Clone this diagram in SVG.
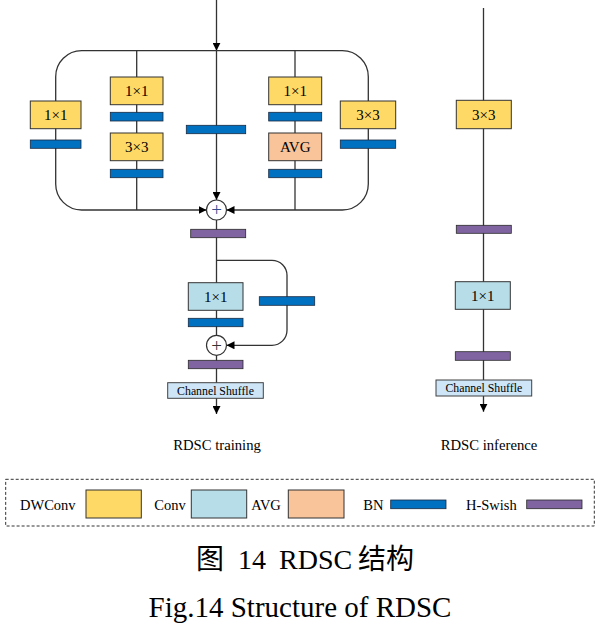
<svg xmlns="http://www.w3.org/2000/svg" width="600" height="623" viewBox="0 0 600 623">
<defs>
<marker id="arr" viewBox="0 0 10 10" refX="10" refY="5" markerWidth="8" markerHeight="8" markerUnits="userSpaceOnUse" orient="auto"><path d="M0,0 L10,5 L0,10 z" fill="#000"/></marker>
<style>
.ln{fill:none;stroke:#333;stroke-width:1.3}
.dw{fill:#FFD966;stroke:#333;stroke-width:1}
.cv{fill:#B7DEE8;stroke:#333;stroke-width:1}
.av{fill:#F9C499;stroke:#333;stroke-width:1}
.bn{fill:#0070C0;stroke:#1a2a40;stroke-width:0.8}
.hs{fill:#8064A2;stroke:#2a2a2a;stroke-width:0.8}
.cs{fill:#CDE5F7;stroke:#404040;stroke-width:1}
.pl{fill:#fff;stroke:#333;stroke-width:1.2}
.t{font-family:"Liberation Serif",serif;font-size:15px;fill:#000;text-anchor:middle}
.ts{font-family:"Liberation Serif",serif;font-size:11.8px;fill:#000;text-anchor:middle}
.tl{font-family:"Liberation Serif",serif;font-size:14.7px;fill:#000;text-anchor:middle}
.lg{font-family:"Liberation Serif",serif;font-size:14.5px;fill:#000}
.ps{font-family:"Liberation Serif",serif;font-size:19px;text-anchor:middle}
</style>
</defs>
<rect width="600" height="623" fill="#fff"/>
<g id="connectors">
<path class="ln" d="M216.5,0 V50.7" marker-end="url(#arr)"/>
<path class="ln" d="M216.5,50.7 V200" marker-end="url(#arr)"/>
<path class="ln" d="M216.5,50.7 H81.7 A26,26 0 0 0 55.7,76.7 V184 A26,26 0 0 0 81.7,210 H206.5" marker-end="url(#arr)"/>
<path class="ln" d="M216.5,50.7 H342.3 A26,26 0 0 1 368.3,76.7 V184 A26,26 0 0 1 342.3,210 H226.5" marker-end="url(#arr)"/>
<path class="ln" d="M136.7,50.7 V210"/>
<path class="ln" d="M295,50.7 V210"/>
<path class="ln" d="M216.5,220 V335.3"/>
<path class="ln" d="M216.5,260.3 H272 A15,15 0 0 1 287,275.3 V330.3 A15,15 0 0 1 272,345.3 H226.5" marker-end="url(#arr)"/>
<path class="ln" d="M216.5,355.3 V414" marker-end="url(#arr)"/>
<path class="ln" d="M483.5,8 V411.7" marker-end="url(#arr)"/>
</g>
<g id="dw1x1-left"><rect class="dw" x="30.3" y="101" width="50.7" height="27.7"/><text class="t" x="55.7" y="119.8">1×1</text></g>
<g id="bn-left"><rect class="bn" x="30.3" y="140" width="50.7" height="8.3"/></g>
<g id="conv1x1-a"><rect class="dw" x="110.3" y="77" width="52.7" height="27.7"/><text class="t" x="136.7" y="95.8">1×1</text></g>
<g id="bn-a1"><rect class="bn" x="110.3" y="112.3" width="52.7" height="8.7"/></g>
<g id="dw3x3-a"><rect class="dw" x="110.3" y="133" width="52.7" height="27.7"/><text class="t" x="136.7" y="151.8">3×3</text></g>
<g id="bn-a2"><rect class="bn" x="110.3" y="169.3" width="52.7" height="8.4"/></g>
<g id="bn-center"><rect class="bn" x="186.3" y="125.3" width="59.4" height="8.4"/></g>
<g id="dw1x1-b"><rect class="dw" x="268.7" y="77" width="53" height="27.7"/><text class="t" x="295.2" y="95.8">1×1</text></g>
<g id="bn-b1"><rect class="bn" x="268.7" y="112.3" width="53" height="8.7"/></g>
<g id="avg-b"><rect class="av" x="268.7" y="133" width="53" height="27.7"/><text class="t" x="295.2" y="151.8">AVG</text></g>
<g id="bn-b2"><rect class="bn" x="268.7" y="169.3" width="53" height="8.4"/></g>
<g id="dw3x3-right"><rect class="dw" x="340.3" y="101" width="55.4" height="27.7"/><text class="t" x="368" y="119.8">3×3</text></g>
<g id="bn-right"><rect class="bn" x="340.3" y="140" width="55.4" height="8.3"/></g>
<g id="add1"><circle class="pl" cx="216.5" cy="210" r="10"/><text class="ps" x="216.5" y="216.3" fill="#2F4F8F">+</text></g>
<g id="hs1"><rect class="hs" x="190.7" y="229.3" width="55" height="8.4"/></g>
<g id="conv1x1-t"><rect class="cv" x="188.3" y="282.7" width="54.7" height="27.6"/><text class="t" x="215.7" y="301.5">1×1</text></g>
<g id="bn-t"><rect class="bn" x="188.3" y="318.3" width="54.7" height="8.4"/></g>
<g id="bn-skip"><rect class="bn" x="259.3" y="296.7" width="55.4" height="8.6"/></g>
<g id="add2"><circle class="pl" cx="216.5" cy="345.3" r="10"/><text class="ps" x="216.5" y="351.6" fill="#333">+</text></g>
<g id="hs2"><rect class="hs" x="188.3" y="360.3" width="54.7" height="8.4"/></g>
<g id="shuffle-t"><rect class="cs" x="167.7" y="382.7" width="95.6" height="15.6"/><text class="ts" x="215.5" y="394.5">Channel Shuffle</text></g>
<text class="tl" x="217" y="450">RDSC training</text>
<g id="dw3x3-i"><rect class="dw" x="456.3" y="100.3" width="55" height="28.4"/><text class="t" x="483.8" y="119.5">3×3</text></g>
<g id="hs-i1"><rect class="hs" x="456.3" y="225.3" width="55" height="8"/></g>
<g id="conv1x1-i"><rect class="cv" x="455.3" y="281.7" width="55" height="27.6"/><text class="t" x="482.8" y="300.5">1×1</text></g>
<g id="hs-i2"><rect class="hs" x="455.3" y="351.7" width="55" height="8.6"/></g>
<g id="shuffle-i"><rect class="cs" x="436" y="380" width="95.7" height="16"/><text class="ts" x="483.8" y="392">Channel Shuffle</text></g>
<text class="tl" x="489" y="450">RDSC inference</text>
<g id="legend">
<rect x="5.7" y="479.3" width="588.6" height="46.7" fill="none" stroke="#333" stroke-width="1" stroke-dasharray="3,2"/>
<text class="lg" x="20" y="510">DWConv</text>
<rect class="dw" x="86" y="490" width="55.3" height="28"/>
<text class="lg" x="154.3" y="510">Conv</text>
<rect class="cv" x="191.3" y="490" width="55.4" height="28"/>
<text class="lg" x="251.3" y="510">AVG</text>
<rect class="av" x="288.3" y="490" width="55.7" height="28"/>
<text class="lg" x="363.3" y="510">BN</text>
<rect class="bn" x="390.7" y="500" width="55.3" height="8.7"/>
<text class="lg" x="466" y="510">H-Swish</text>
<rect class="hs" x="526.7" y="500" width="55.3" height="8.7"/>
</g>
<text y="569" style="font-family:'Liberation Serif','Noto Sans CJK SC',serif;font-size:28px;fill:#000"><tspan x="196">图</tspan><tspan x="238">14</tspan><tspan x="279">RDSC</tspan><tspan x="358">结构</tspan></text>
<text x="300" y="616.7" style="font-family:'Liberation Serif',serif;font-size:29px;fill:#000;text-anchor:middle">Fig.14 Structure of RDSC</text>
</svg>
